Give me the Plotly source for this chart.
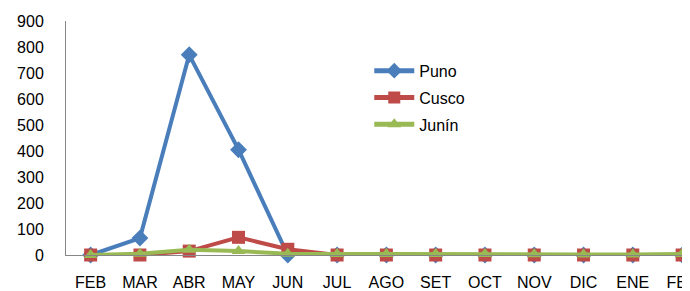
import plotly.graph_objects as go

months = ["FEB", "MAR", "ABR", "MAY", "JUN", "JUL", "AGO", "SET", "OCT", "NOV", "DIC", "ENE", "FEB"]
puno = [0, 65, 770, 405, 0, 0, 0, 0, 0, 0, 0, 0, 0]
cusco = [0, 0, 15, 68, 22, 0, 0, 0, 0, 0, 0, 0, 0]
junin = [0, 5, 20, 15, 5, 4, 4, 4, 4, 3, 2, 2, 4]
y_ticks = [0, 100, 200, 300, 400, 500, 600, 700, 800, 900]

xs = list(range(len(months)))

fig = go.Figure()
fig.add_trace(go.Scatter(x=xs, y=puno, name="Puno", mode="lines+markers",
                         line=dict(color="#4A7EBB", width=4),
                         marker=dict(symbol="diamond", size=13, color="#4A7EBB"),
                         cliponaxis=False, legendgroup="a"))
fig.add_trace(go.Scatter(x=xs, y=cusco, name="Cusco", mode="lines+markers",
                         line=dict(color="#BE4B48", width=4),
                         marker=dict(symbol="square", size=13, color="#BE4B48"),
                         cliponaxis=False, legendgroup="b"))
fig.add_trace(go.Scatter(x=xs, y=junin, name="Junín", mode="lines+markers",
                         line=dict(color="#98B954", width=4),
                         marker=dict(symbol="triangle-up", size=12, color="#98B954"),
                         cliponaxis=False, legendgroup="c"))

fig.update_layout(
    width=682, height=283,
    margin=dict(l=58, r=0, t=13, b=36, autoexpand=False),
    paper_bgcolor="white", plot_bgcolor="white",
    font=dict(family="Liberation Sans, Arial, sans-serif", size=16, color="#000000"),
    showlegend=True,
    legend=dict(x=0.486, y=0.86, xanchor="left", yanchor="top",
                bgcolor="rgba(0,0,0,0)", font=dict(size=16),
                tracegroupgap=3, itemwidth=40, itemsizing="constant"),
    xaxis=dict(tickmode="array", tickvals=xs, ticktext=months,
               range=[-0.5, 12.16], showgrid=False, zeroline=False,
               showline=True, linecolor="#868686", linewidth=1,
               ticks="", ticklabelstandoff=13, automargin=False,
               ticklabeloverflow="allow"),
    yaxis=dict(range=[0, 900], tickvals=y_ticks, showgrid=False, zeroline=False,
               showline=True, linecolor="#868686", linewidth=1,
               ticks="", ticklabelstandoff=18, automargin=False),
)

fig.write_html("out.html")
